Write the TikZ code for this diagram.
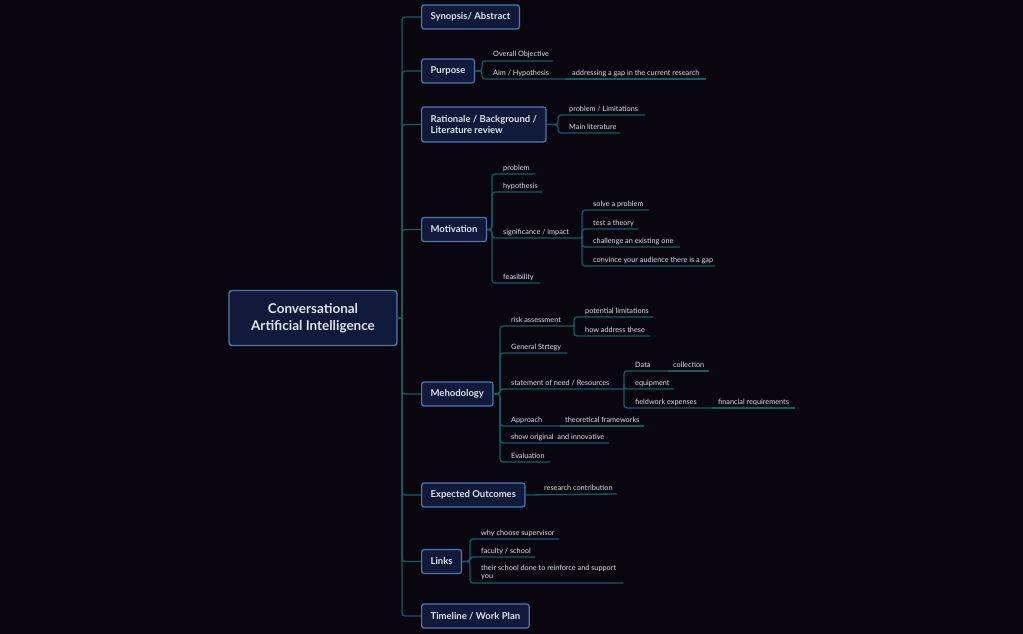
\documentclass[tikz,border=0pt]{standalone}
\usepackage{fontspec}
\setmainfont{Lato}
\definecolor{bg}{HTML}{0A0610}
\definecolor{nfill}{HTML}{111A38}
\definecolor{nbord}{HTML}{4C78B8}
\definecolor{teal}{HTML}{0F5E60}
\definecolor{tx}{HTML}{DDE2EE}
\tikzset{
 br/.style={draw=teal,line width=1.3pt,rounded corners=3pt},
 mn/.style={draw=nbord,fill=nfill,line width=1.2pt,rounded corners=2.5pt,text=tx,font=\fontsize{9.5}{11.5}\selectfont\bfseries,anchor=west,inner xsep=9pt,inner ysep=0pt,minimum height=24pt,align=left},
 lt/.style={text=tx,font=\fontsize{7.3}{8.5}\selectfont,inner sep=0pt,anchor=base west,align=left},
}
\newcommand\lf[6]{%
 \coordinate (#1s) at (#3,#4); \coordinate (#1e) at (#5,#4);
 \draw[br] (#2) -| (#1s) -- (#1e);
 \node[lt] (#1) at ([xshift=11pt,yshift=4pt]#1s) {#6};}
\newcommand\ct[5]{% name, from, xe, textx, text
 \draw[br] (#2) -- (#3,0 |- #2) coordinate (#1e);
 \node[lt] (#1) at ([yshift=4pt]#4,0 |- #2) {#5};}
\begin{document}
\begin{tikzpicture}[x=1pt,y=-1pt]
\fill[bg] (0,0) rectangle (1023,634);
\useasboundingbox (0,0) rectangle (1023,634);
\node[draw=nbord,fill=nfill,line width=1.4pt,rounded corners=3pt,text=tx,font=\fontsize{13.5}{17}\selectfont\bfseries,align=center,minimum width=168pt,minimum height=55pt] (c) at (313,318) {Conversational\\Artificial Intelligence};
\coordinate (tr) at (402,318);
\draw[br] (c.east) -- (tr);
\node[mn] (syn) at (421,17) {Synopsis/ Abstract};
\node[mn] (pur) at (421,71) {Purpose};
\node[mn,minimum height=35pt] (rat) at (421,124.5) {Rationale / Background /\\Literature review};
\node[mn] (mot) at (421,229.5) {Motivation};
\node[mn] (met) at (421,394) {Mehodology};
\node[mn] (exp) at (421,495) {Expected Outcomes};
\node[mn] (lnk) at (421,561.5) {Links};
\node[mn] (tim) at (421,616) {Timeline / Work Plan};
\foreach \n in {syn,pur,rat,mot,met,exp,lnk,tim} \draw[br] (tr) |- (\n.west);
% Purpose
\lf{ov}{pur.east}{482}{61}{553}{Overall Objective}
\lf{aim}{pur.east}{482}{79}{565}{Aim / Hypothesis}
\ct{gap}{aime}{706}{572}{addressing a gap in the current research}
% Rationale
\lf{pl}{rat.east}{558}{115}{645}{problem / Limitations}
\lf{ml}{rat.east}{558}{133}{620}{Main literature}
% Motivation
\lf{mp}{mot.east}{492}{174}{535}{problem}
\lf{mh}{mot.east}{492}{192}{542}{hypothesis}
\lf{si}{mot.east}{492}{238}{582}{significance / impact}
\lf{fe}{mot.east}{492}{283}{540}{feasibility}
\lf{sp}{sie}{582}{210}{649}{solve a problem}
\lf{tt}{sie}{582}{229}{638}{test a theory}
\lf{ch}{sie}{582}{247}{680}{challenge an existing one}
\lf{cv}{sie}{582}{266}{715}{convince your audience there is a gap}
% Methodology
\lf{ra}{met.east}{500}{326}{574}{risk assessment}
\lf{gs}{met.east}{500}{353}{567}{General Strtegy}
\lf{sn}{met.east}{500}{389}{624}{statement of need / Resources}
\lf{ap}{met.east}{500}{426}{560}{Approach}
\ct{tf}{ape}{644}{565}{theoretical frameworks}
\lf{so}{met.east}{500}{443}{609}{show original\ \ and innovative}
\lf{ev}{met.east}{500}{462}{550}{Evaluation}
\lf{plim}{rae}{574}{317}{653}{potential limitations}
\lf{hat}{rae}{574}{336}{650}{how address these}
\lf{da}{sne}{624}{371}{668}{Data}
\ct{col}{dae}{709}{673}{collection}
\lf{eq}{sne}{624}{389}{674}{equipment}
\lf{fw}{sne}{624}{408}{712}{fieldwork expenses}
\ct{fin}{fwe}{795}{718}{financial requirements}
% Expected
\draw[br] (exp.east) -- (617,494) coordinate (rce);
\node[lt] (rc) at (544,490) {research contribution};
% Links
\lf{wc}{lnk.east}{470}{539}{559}{why choose supervisor}
\lf{fs}{lnk.east}{470}{557}{535}{faculty / school}
\coordinate (tss) at (470,583); \coordinate (tse) at (623,583);
\draw[br] (lnk.east) -| (tss) -- (tse);
\node[lt,anchor=south west] (ts) at (481,580) {their school done to reinforce and support\\you};
\end{tikzpicture}
\end{document}
